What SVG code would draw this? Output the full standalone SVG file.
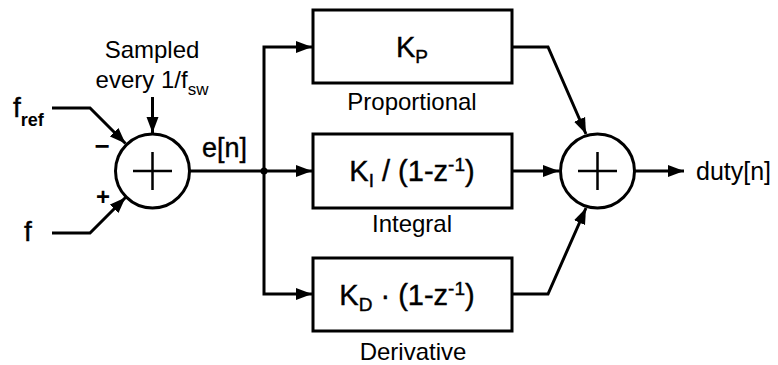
<svg xmlns="http://www.w3.org/2000/svg" width="778" height="365" viewBox="0 0 778 365">
<style>
text { font-family: "Liberation Sans", Arial, sans-serif; fill: #000; }
.lbl { font-size: 24px; text-anchor: middle; }
.big { font-size: 29px; stroke: #000; stroke-width: 0.4; }
.heavy { stroke: #000; stroke-width: 0.4; }
.box { fill: #fff; stroke: #000; stroke-width: 3; }
.sum { fill: #fff; stroke: #000; stroke-width: 3; }
.plus { stroke: #000; stroke-width: 2.5; fill: none; }
.wire { fill: none; stroke: #000; stroke-width: 3; stroke-linejoin: miter; }
.arr { marker-end: url(#ah); }
</style>
<defs>
<marker id="ah" markerUnits="userSpaceOnUse" markerWidth="17" markerHeight="13" refX="16" refY="6.5" orient="auto" viewBox="0 0 17 13">
<path d="M0,0.5 L16,6.5 L0,12.5 Z" fill="#000"/>
</marker>
</defs>

<g id="connectors">
<path class="wire arr" d="M52,108 H90 L125.5,143.5"/>
<path class="wire arr" d="M52,233 H90 L125.5,197.5"/>
<path class="wire arr" d="M152.5,97 V133"/>
<path class="wire" d="M190,171 H264"/>
<path class="wire arr" d="M264,171 V47 H312"/>
<path class="wire arr" d="M264,171 H312"/>
<path class="wire arr" d="M264,171 V294 H312"/>
<path class="wire arr" d="M512,47 H548 L586,134"/>
<path class="wire arr" d="M512,171 H559"/>
<path class="wire arr" d="M512,294 H548 L586,208"/>
<path class="wire arr" d="M635,171 H684"/>
<circle cx="264" cy="171" r="3.5" fill="#000"/>
</g>

<g id="input-fref">
<text class="heavy" x="13" y="117" font-size="28">f<tspan font-size="18" font-weight="bold" stroke-width="0" dy="9">ref</tspan></text>
</g>
<g id="input-f">
<text class="heavy" x="24" y="241" font-size="28">f</text>
</g>
<g id="sample-label">
<text class="lbl" x="152" y="58">Sampled</text>
<text class="lbl" x="152" y="88">every 1/f<tspan font-size="17" dy="7">sw</tspan></text>
</g>

<g id="sum1">
<circle class="sum" cx="152.5" cy="171" r="37"/>
<path class="plus" d="M133,171 H172 M152.5,152 V190"/>
<text x="102" y="155" font-size="26" font-weight="bold" text-anchor="middle">−</text>
<text x="103" y="205" font-size="24" font-weight="bold" text-anchor="middle">+</text>
</g>

<g id="en-label">
<text class="heavy" x="202" y="157" font-size="27">e[n]</text>
</g>

<g id="kp">
<rect class="box" x="313" y="10" width="199" height="73"/>
<text class="big" x="412" y="57" text-anchor="middle">K<tspan font-size="19" dy="6">P</tspan></text>
<text class="lbl" x="412" y="110">Proportional</text>
</g>

<g id="ki">
<rect class="box" x="313" y="134" width="199" height="74"/>
<text class="big" x="412" y="181" text-anchor="middle">K<tspan font-size="19" dy="6">I</tspan><tspan dy="-6"> / (1-z</tspan><tspan font-size="19" dy="-10">-1</tspan><tspan dy="10">)</tspan></text>
<text class="lbl" x="412" y="232">Integral</text>
</g>

<g id="kd">
<rect class="box" x="313" y="258" width="199" height="73"/>
<text class="big" x="407" y="305" text-anchor="middle">K<tspan font-size="19" dy="6">D</tspan><tspan dy="-6"> · (1-z</tspan><tspan font-size="19" dy="-10">-1</tspan><tspan dy="10">)</tspan></text>
<text class="lbl" x="413" y="360">Derivative</text>
</g>

<g id="sum2">
<circle class="sum" cx="597.5" cy="171" r="37"/>
<path class="plus" d="M578,171 H617 M597.5,152 V190"/>
</g>

<g id="output">
<text x="696" y="180" font-size="25">duty[n]</text>
</g>
</svg>
